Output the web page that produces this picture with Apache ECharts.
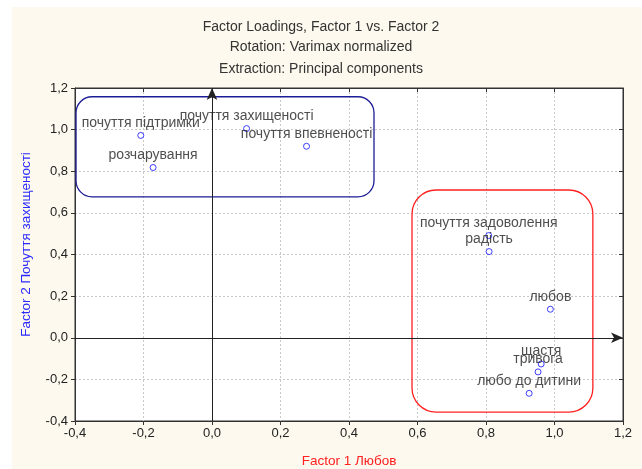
<!DOCTYPE html>
<html>
<head>
<meta charset="utf-8">
<script src="https://cdn.jsdelivr.net/npm/echarts@6/dist/echarts.min.js"></script>
<style>
html, body { margin: 0; padding: 0; background: #fff; }
#chart { width: 642px; height: 469px; }
</style>
</head>
<body>
<div id="chart"></div>
<script>
// factor loadings
const variables = ['почуття підтримки', 'розчарування', 'почуття захищеності', 'почуття впевненості',
  'почуття задоволення', 'радість', 'любов', 'щастя', 'тривога', 'любо до дитини']
const factor1 = [-0.208, -0.172, 0.101, 0.276, 0.808, 0.809, 0.988, 0.961, 0.952, 0.926]
const factor2 = [0.972, 0.818, 1.005, 0.920, 0.491, 0.414, 0.137, -0.126, -0.164, -0.267]
const ticks = [-0.4, -0.2, 0, 0.2, 0.4, 0.6, 0.8, 1.0, 1.2]
// groups drawn round the points: [x1, y1, x2, y2] in loading units
const groupBlue = [[-0.397, 1.158, 0.473, 0.677]]
const groupRed = [[0.584, 0.71, 1.112, -0.357]]

const fmt = v => v.toFixed(1).replace('.', ',')
const font = 'Liberation Sans, Arial, sans-serif'

const chart = echarts.init(document.getElementById('chart'))

function boxSeries(data, color, r) {
  return {
    type: 'custom',
    silent: true,
    data: data,
    encode: { x: [0, 2], y: [1, 3] },
    renderItem: (params, api) => {
      const p1 = api.coord([api.value(0), api.value(1)])
      const p2 = api.coord([api.value(2), api.value(3)])
      return {
        type: 'rect',
        shape: { x: p1[0], y: p1[1], width: p2[0] - p1[0], height: p2[1] - p1[1], r: r },
        style: { fill: 'none', stroke: color, lineWidth: 1.3 },
      }
    },
  }
}

const option = {
  animation: false,
  backgroundColor: '#fdf9ee',
  textStyle: { fontFamily: font },
  graphic: [
    { type: 'rect', left: 0, top: 0, shape: { width: 12, height: 469 }, style: { fill: '#fff' } },
    { type: 'rect', left: 0, top: 0, shape: { width: 642, height: 7 }, style: { fill: '#fff' } },
  ],
  title: [
    { text: 'Factor Loadings, Factor 1 vs. Factor 2', left: 'center', top: 20 },
    { text: 'Rotation: Varimax normalized', left: 'center', top: 40 },
    { text: 'Extraction: Principal components', left: 'center', top: 62 },
  ].map(t => Object.assign(t, {
    padding: 0,
    textStyle: { fontFamily: font, fontSize: 14, fontWeight: 'normal', color: '#333' },
  })),
  grid: {
    left: 75, right: 19, top: 88, bottom: 48,
    outerBoundsMode: 'none',
    show: true, backgroundColor: '#fff', borderColor: '#333', borderWidth: 1,
  },
  xAxis: [{
    type: 'value', min: ticks[0], max: ticks[ticks.length - 1], interval: 0.2,
    position: 'bottom',
    axisLine: { show: true, onZero: false, lineStyle: { color: '#333' } },
    axisTick: { show: true, length: 4, lineStyle: { color: '#333' } },
    splitLine: { show: true, lineStyle: { color: '#c8c8c8', type: [2, 2] } },
    axisLabel: { formatter: fmt, color: '#222', fontSize: 13, margin: 6, fontFamily: font },
    name: 'Factor 1 Любов', nameLocation: 'middle', nameGap: 33,
    nameTextStyle: { color: '#ff2020', fontSize: 13.5, fontFamily: font },
  }, {
    type: 'value', min: ticks[0], max: ticks[ticks.length - 1], interval: 0.2,
    position: 'top',
    axisLine: { show: true, onZero: false, lineStyle: { color: '#333' } },
    axisTick: { show: true, inside: true, length: 4, lineStyle: { color: '#333' } },
    axisLabel: { show: false }, splitLine: { show: false },
  }],
  yAxis: [{
    type: 'value', min: ticks[0], max: ticks[ticks.length - 1], interval: 0.2,
    position: 'left',
    axisLine: { show: true, onZero: false, lineStyle: { color: '#333' } },
    axisTick: { show: true, length: 4, lineStyle: { color: '#333' } },
    splitLine: { show: true, lineStyle: { color: '#c8c8c8', type: [2, 2] } },
    axisLabel: { formatter: fmt, color: '#222', fontSize: 13, margin: 7, fontFamily: font },
    name: 'Factor 2 Почуття захищеності', nameLocation: 'middle', nameGap: 42,
    nameTextStyle: { color: '#2a2aff', fontSize: 13.5, fontFamily: font, padding: [0, 0, 0, 20] },
  }, {
    type: 'value', min: ticks[0], max: ticks[ticks.length - 1], interval: 0.2,
    position: 'right',
    axisLine: { show: true, onZero: false, lineStyle: { color: '#333' } },
    axisTick: { show: true, inside: true, length: 4, lineStyle: { color: '#333' } },
    axisLabel: { show: false }, splitLine: { show: false },
  }],
  series: [
    boxSeries(groupBlue, '#1c1c96', 16),
    boxSeries(groupRed, '#ff2020', 24),
    {
      type: 'scatter',
      symbol: 'circle',
      symbolSize: 6,
      itemStyle: { color: '#fff', borderColor: '#1010ff', borderWidth: 1 },
      data: variables.map((n, i) => ({ name: n, value: [factor1[i], factor2[i]] })),
      label: {
        show: true, position: 'top', distance: 2,
        formatter: p => p.name,
        color: '#222', fontSize: 14, fontFamily: font,
      },
      markLine: {
        silent: true,
        symbol: ['none', 'arrow'],
        symbolSize: [8, 12],
        label: { show: false },
        lineStyle: { color: '#222', type: 'solid', width: 1 },
        data: [
          [{ coord: [0, ticks[0]] }, { coord: [0, ticks[ticks.length - 1]] }],
          [{ coord: [ticks[0], 0] }, { coord: [ticks[ticks.length - 1], 0] }],
        ],
      },
    },
  ],
}

option && chart.setOption(option)
</script>
</body>
</html>
